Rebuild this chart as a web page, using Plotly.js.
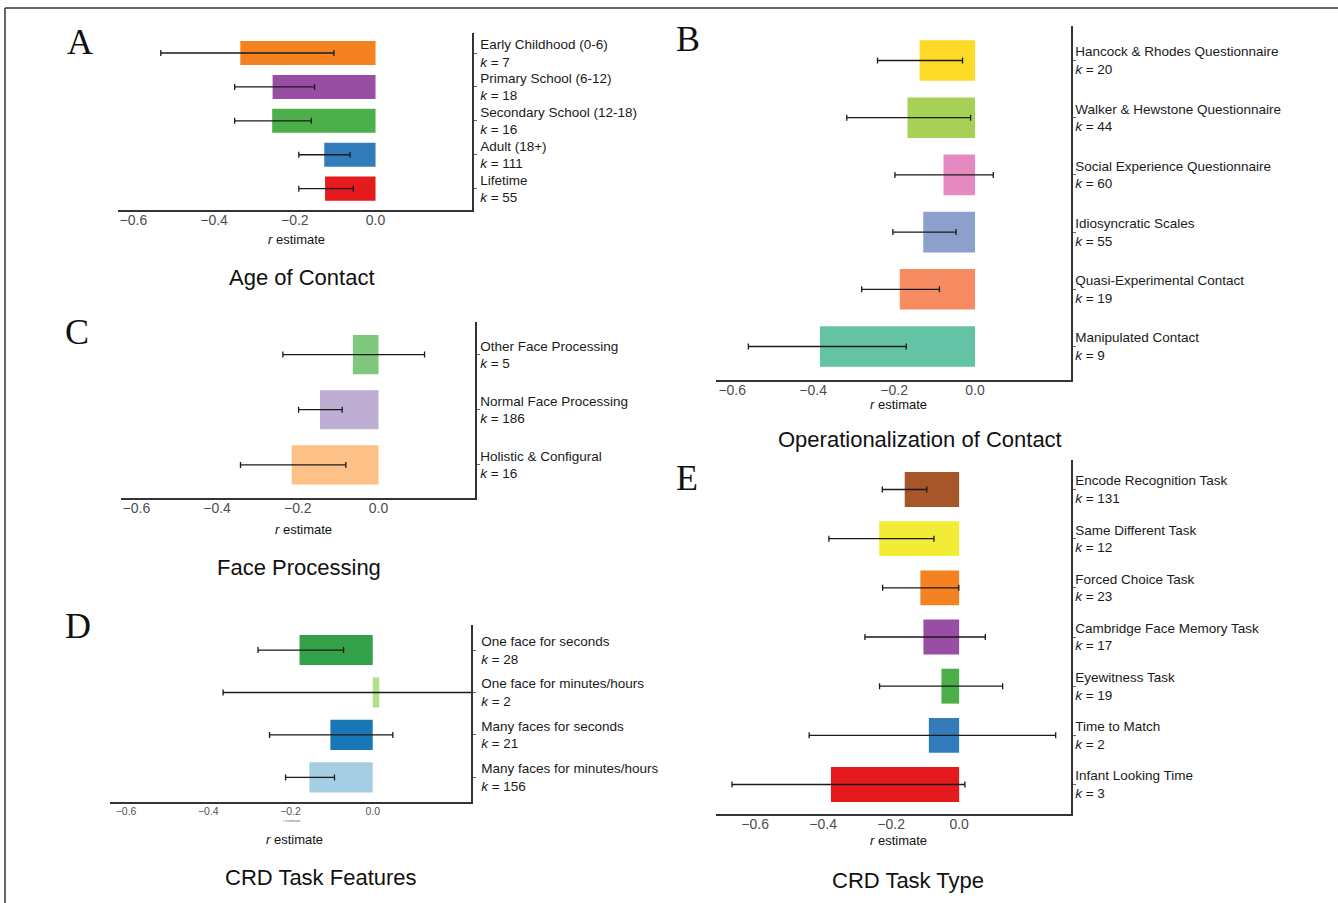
<!DOCTYPE html>
<html>
<head>
<meta charset="utf-8">
<script src="https://cdn.plot.ly/plotly-3.0.1.min.js"></script>
<style>html,body{margin:0;padding:0;background:#fff;}#chart{width:1338px;height:903px;}</style>
</head>
<body>
<div id="chart"></div>
<script>
// ---- Panel A: Age of Contact ----
var ageCats = ['Early Childhood (0-6)','Primary School (6-12)','Secondary School (12-18)','Adult (18+)','Lifetime'];
var ageK = [7,18,16,111,55];
var ageEst = [-0.335,-0.255,-0.256,-0.127,-0.125];
var ageLo = [-0.532,-0.349,-0.349,-0.190,-0.190];
var ageHi = [-0.103,-0.151,-0.159,-0.063,-0.055];
var ageColors = ['#F58220','#984EA3','#4DAF4A','#337CBB','#E41A1C'];

// ---- Panel B: Operationalization of Contact ----
var opCats = ['Hancock & Rhodes Questionnaire','Walker & Hewstone Questionnaire','Social Experience Questionnaire','Idiosyncratic Scales','Quasi-Experimental Contact','Manipulated Contact'];
var opK = [20,44,60,55,19,9];
var opEst = [-0.137,-0.167,-0.078,-0.128,-0.186,-0.383];
var opLo = [-0.241,-0.317,-0.198,-0.203,-0.280,-0.560];
var opHi = [-0.031,-0.011,0.045,-0.047,-0.088,-0.170];
var opColors = ['#FDD928','#A6D154','#E58AC0','#8DA0CB','#F78C62','#64C3A4'];

// ---- Panel C: Face Processing ----
var fpCats = ['Other Face Processing','Normal Face Processing','Holistic & Configural'];
var fpK = [5,186,16];
var fpEst = [-0.0635,-0.145,-0.215];
var fpLo = [-0.237,-0.198,-0.342];
var fpHi = [0.114,-0.090,-0.081];
var fpColors = ['#7FC97F','#BEAED4','#FDC086'];

// ---- Panel D: CRD Task Features ----
var tfCats = ['One face for seconds','One face for minutes/hours','Many faces for seconds','Many faces for minutes/hours'];
var tfK = [28,2,21,156];
var tfEst = [-0.178,0.016,-0.103,-0.154];
var tfLo = [-0.279,-0.364,-0.251,-0.212];
var tfHi = [-0.071,0.40,0.049,-0.093];
var tfColors = ['#33A04A','#B2DF8A','#1A77B5','#A6CEE3'];

// ---- Panel E: CRD Task Type ----
var ttCats = ['Encode Recognition Task','Same Different Task','Forced Choice Task','Cambridge Face Memory Task','Eyewitness Task','Time to Match','Infant Looking Time'];
var ttK = [131,12,23,17,19,2,3];
var ttEst = [-0.160,-0.235,-0.114,-0.105,-0.052,-0.089,-0.377];
var ttLo = [-0.226,-0.383,-0.225,-0.277,-0.234,-0.441,-0.668];
var ttHi = [-0.095,-0.074,-0.001,0.077,0.128,0.284,0.017];
var ttColors = ['#A65628','#F2EC36','#F58220','#984EA3','#4DAF4A','#337CBB','#E41A1C'];

var xTicks = [-0.6,-0.4,-0.2,0.0];
var W = 1338, H = 903;
var FONT = 'Liberation Sans, Arial, sans-serif';

function px(x){ return x / W; }
function py(y){ return 1 - y / H; }

function labels(cats, ks){
  return cats.map(function(c,i){ return c + '<br><i>k</i> = ' + ks[i]; });
}

function barTrace(cats, est, lo, hi, colors, xa, ya){
  return {
    type:'bar', orientation:'h',
    x: est, y: cats,
    xaxis: xa, yaxis: ya,
    width: 0.71,
    marker:{color: colors, line:{width:0}},
    error_x:{
      type:'data', symmetric:false,
      array: hi.map(function(h,i){ return h - est[i]; }),
      arrayminus: lo.map(function(l,i){ return est[i] - l; }),
      color:'#1a1a1a', thickness:1.3, width:3
    },
    hoverinfo:'skip'
  };
}

var data = [
  barTrace(ageCats, ageEst, ageLo, ageHi, ageColors, 'x', 'y'),
  barTrace(opCats, opEst, opLo, opHi, opColors, 'x2', 'y2'),
  barTrace(fpCats, fpEst, fpLo, fpHi, fpColors, 'x3', 'y3'),
  barTrace(tfCats, tfEst, tfLo, tfHi, tfColors, 'x4', 'y4'),
  barTrace(ttCats, ttEst, ttLo, ttHi, ttColors, 'x5', 'y5')
];

function xAxis(dom, range, anchor, small){
  return {
    domain: dom, range: range, anchor: anchor,
    showline:true, linecolor:'#333', linewidth:1.5,
    showgrid:false, zeroline:false, ticks:'',
    tickvals: xTicks, tickformat:'.1f',
    ticklabelstandoff: small ? -1 : -3,
    tickfont:{family:FONT, size: small ? 10.5 : 14, color: small ? '#555' : '#4d4d4d'},
    fixedrange:true
  };
}
function yAxis(dom, cats, ks, range, anchor, standoff){
  return {
    domain: dom, range: range, anchor: anchor, side:'right',
    type:'category', categoryorder:'array', categoryarray: cats,
    tickvals: cats, ticktext: labels(cats, ks),
    showline:true, linecolor:'#333', linewidth:1.5,
    showgrid:false, zeroline:false,
    ticks:'outside', ticklen:3, tickcolor:'#666', tickwidth:1,
    ticklabelstandoff: standoff,
    tickfont:{family:FONT, size:13.5, color:'#1a1a1a'},
    fixedrange:true
  };
}

var annFont = function(size, fam){ return {family: fam || FONT, size: size, color:'#111'}; };
function ann(text, x, y, size, fam){
  return {text:text, x:px(x), y:py(y), xref:'paper', yref:'paper', xanchor:'center', yanchor:'middle', showarrow:false, font: annFont(size, fam)};
}
var SERIF = 'Liberation Serif, Times New Roman, serif';

var layout = {
  width: W, height: H,
  margin:{l:0,r:0,t:0,b:0},
  paper_bgcolor:'#fff', plot_bgcolor:'rgba(0,0,0,0)',
  showlegend:false,
  xaxis:  xAxis([px(118), px(472)], [-0.638, 0.239], 'y'),
  yaxis:  yAxis([py(210), py(33)], ageCats, ageK, [4.63, -0.59], 'x', 1),
  xaxis2: xAxis([px(716), px(1071)], [-0.640, 0.237], 'y2'),
  yaxis2: yAxis([py(380), py(26)], opCats, opK, [5.586, -0.603], 'x2', -3),
  xaxis3: xAxis([px(121), px(475)], [-0.638, 0.239], 'y3'),
  yaxis3: yAxis([py(498), py(322)], fpCats, fpK, [2.6, -0.59], 'x3', -2),
  xaxis4: xAxis([px(110), px(471)], [-0.639, 0.239], 'y4', true),
  yaxis4: yAxis([py(802), py(625)], tfCats, tfK, [3.58, -0.59], 'x4', 3),
  xaxis5: xAxis([px(716), px(1071)], [-0.715, 0.329], 'y5'),
  yaxis5: yAxis([py(814), py(460)], ttCats, ttK, [6.6, -0.6], 'x5', -3),
  annotations: [
    ann('A', 80, 42, 36, SERIF), ann('B', 688, 39, 36, SERIF), ann('C', 77, 332, 36, SERIF),
    ann('D', 78, 626, 36, SERIF), ann('E', 687, 478, 36, SERIF),
    ann('Age of Contact', 302, 277, 22), ann('Operationalization of Contact', 920, 439, 22),
    ann('Face Processing', 299, 567, 22), ann('CRD Task Features', 321, 877, 22),
    ann('CRD Task Type', 908, 880, 22),
    ann('<i>r</i> estimate', 296, 240, 13), ann('<i>r</i> estimate', 898, 405, 13),
    ann('<i>r</i> estimate', 303, 529, 13), ann('<i>r</i> estimate', 294, 839, 13),
    ann('<i>r</i> estimate', 898, 840, 13),
    {text:'<i>r</i> estimate', x:px(292), y:py(820), xref:'paper', yref:'paper', xanchor:'center', yanchor:'middle', showarrow:false, font:{family:FONT, size:4, color:'#666'}}
  ],
  shapes: [
    {type:'line', xref:'paper', yref:'paper', x0:px(5), x1:1, y0:py(8), y1:py(8), line:{color:'#333', width:1.5}},
    {type:'line', xref:'paper', yref:'paper', x0:px(5), x1:px(5), y0:py(8), y1:0, line:{color:'#333', width:1.5}}
  ]
};

Plotly.newPlot('chart', data, layout, {staticPlot:true, displayModeBar:false});
</script>
</body>
</html>
